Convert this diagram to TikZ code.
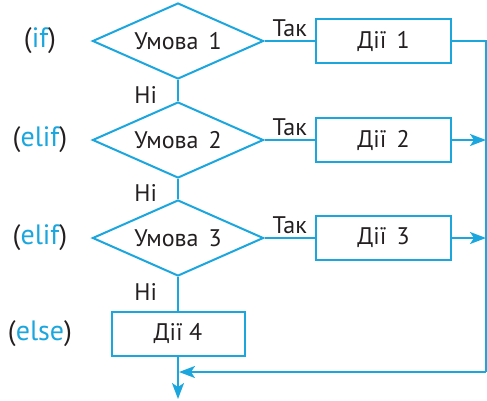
\documentclass[tikz,border=0pt]{standalone}
\usepackage{fontspec}
\setmainfont{PT Sans}
\usetikzlibrary{arrows.meta,shapes.geometric}
\definecolor{Sky}{HTML}{1BA6DE}
\definecolor{Ink}{HTML}{231F20}
\newcommand{\gap}{\hspace{.42em}}
\tikzset{
 txt/.style={font=\fontsize{24}{28}\selectfont,text=Ink},
 cond/.style={diamond,draw=Sky,line width=2pt,aspect=2.25,minimum width=171pt,minimum height=76pt,inner sep=0pt,txt},
 act/.style={draw=Sky,line width=2pt,minimum width=135pt,minimum height=44pt,inner sep=0pt,txt},
 lbl/.style={txt,inner sep=0pt},
 key/.style={lbl,font=\fontsize{28}{32}\selectfont},
 flow/.style={draw=Sky,line width=2pt},
 arr/.style={flow,-{Stealth[length=16pt,width=12pt,inset=4pt]}}
}
\begin{document}
\begin{tikzpicture}[x=1pt,y=-1pt]
\useasboundingbox (0,0) rectangle (487,400);
\foreach \n/\y/\kw in {1/41/if,2/140/elif,3/238/elif} {
 \node[cond] (c\n) at (178,\y) {Умова\gap\n};
 \node[act] (a\n) at (383.5,\y) {Дії\gap\n};
 \node[key] (k\n) at (40,\y) {(\textcolor{Sky}{\kw})};
 \draw[flow] (c\n) -- node[lbl,above=3pt] {Так} (a\n);
}
\node[act,minimum width=133pt] (a4) at (178,334) {Дії 4};
\node[key] (k4) at (40,334) {(\textcolor{Sky}{else})};
\draw[flow] (c1) -- node[lbl,left=20pt,pos=.7] {Ні} (c2);
\draw[flow] (c2) -- node[lbl,left=20pt,pos=.7] {Ні} (c3);
\draw[flow] (c3) -- node[lbl,left=20pt,pos=.45] {Ні} (a4);
% return line on the right
\coordinate (rb) at (486,372);
\coordinate (jn) at ([xshift=1pt]a4.south |- rb);
\coordinate (out) at (178,399);
\draw[flow] (a1.east) -| (rb);
\draw[arr] (rb) -- (jn);
\draw[arr] (a2) -- (a2 -| rb);
\draw[arr] (a3) -- (a3 -| rb);
\draw[arr] (a4) -- (out);
\end{tikzpicture}
\end{document}
